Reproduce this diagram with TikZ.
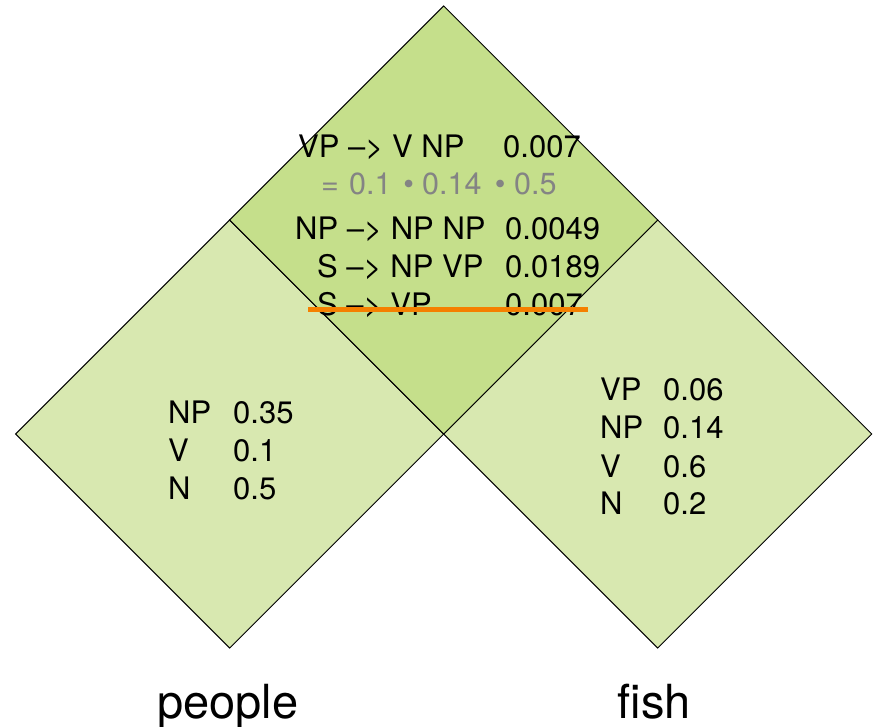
\documentclass[tikz,border=0pt]{standalone}
\usepackage{fontspec}
\setmainfont{TeX Gyre Heros}
\usetikzlibrary{calc}
\definecolor{topgreen}{RGB}{197,223,139}
\definecolor{lowgreen}{RGB}{216,232,176}
\definecolor{txtgray}{RGB}{132,132,132}
\definecolor{cutorange}{RGB}{245,128,0}
\begin{document}
\begin{tikzpicture}[x=1pt,y=-1pt,
  cell/.style={draw=black,line width=1pt,line join=miter},
  lbl/.style={anchor=base west,inner sep=0pt,font=\fontsize{31}{37}\selectfont},
  glbl/.style={anchor=base west,inner sep=0pt,text=txtgray,font=\fontsize{30.5}{36}\selectfont},
  gdot/.style={glbl,anchor=base},
  word/.style={anchor=base,inner sep=0pt,font=\fontsize{47}{56}\selectfont}]
\useasboundingbox (0,0) rectangle (875,727);
% diamonds
\coordinate (Lc) at (229.7,434);
\coordinate (Rc) at (657.7,434);
\coordinate (Tc) at (443.7,220);
\filldraw[cell,fill=lowgreen] ($(Lc)+(0,-214)$) -- ($(Lc)+(214,0)$) -- ($(Lc)+(0,214)$) -- ($(Lc)+(-214,0)$) -- cycle;
\filldraw[cell,fill=lowgreen] ($(Rc)+(0,-214)$) -- ($(Rc)+(214,0)$) -- ($(Rc)+(0,214)$) -- ($(Rc)+(-214,0)$) -- cycle;
\filldraw[cell,fill=topgreen] ($(Tc)+(0,-214)$) -- ($(Tc)+(214,0)$) -- ($(Tc)+(0,214)$) -- ($(Tc)+(-214,0)$) -- cycle;
% top cell text
\node[lbl] (r1) at (298,158) {VP –> V NP};
\node[lbl] (p1) at (503,158) {0.007};
\node[glbl] (g1) at (321,195) {=};
\node[glbl] (g2) at (349,195) {0.1};
\node[gdot] (g3) at (408.8,195) {•};
\node[glbl] (g4) at (422,195) {0.14};
\node[gdot] (g5) at (500.3,195) {•};
\node[glbl] (g6) at (514,195) {0.5};
\node[lbl] (r2) at (295,240) {NP –> NP NP};
\node[lbl] (p2) at (505,240) {0.0049};
\node[lbl] (r3) at (317,278) {S –> NP VP};
\node[lbl] (p3) at (505,278) {0.0189};
\node[lbl] (r4) at (317,316) {S –> VP};
\node[lbl] (p4) at (505,316) {0.007};
\coordinate (cutA) at (308,309);
\coordinate (cutB) at (588,309);
\draw[cutorange,line width=5pt] (cutA) -- (cutB);
% left cell text
\node[lbl] (l1) at (168,423) {NP};
\node[lbl] (l1p) at (233,423) {0.35};
\node[lbl] (l2) at (168,461) {V};
\node[lbl] (l2p) at (233,461) {0.1};
\node[lbl] (l3) at (168,499) {N};
\node[lbl] (l3p) at (233,499) {0.5};
% right cell text
\node[lbl] (q1) at (600,400) {VP};
\node[lbl] (q1p) at (663,400) {0.06};
\node[lbl] (q2) at (600,438) {NP};
\node[lbl] (q2p) at (663,438) {0.14};
\node[lbl] (q3) at (600,477) {V};
\node[lbl] (q3p) at (663,477) {0.6};
\node[lbl] (q4) at (600,514) {N};
\node[lbl] (q4p) at (663,514) {0.2};
% words
\node[word] (w1) at (228,718) {people};
\node[word] (w2) at (654.5,718) {fish};
\end{tikzpicture}
\end{document}
